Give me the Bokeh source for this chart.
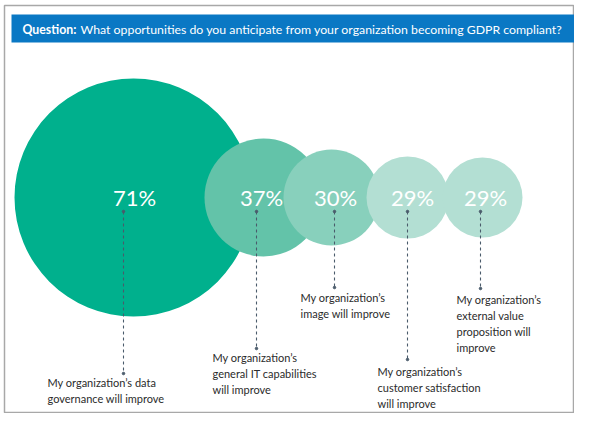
from bokeh.plotting import figure
from bokeh.models import Range1d
from bokeh.core.properties import value
from bokeh.embed import file_html
from bokeh.resources import INLINE

# ---- data ----
pct_values = [71, 37, 30, 29, 29]
pct_labels = ["71%", "37%", "30%", "29%", "29%"]
answers = [
    "My organization\u2019s data\ngovernance will improve",
    "My organization\u2019s\ngeneral IT capabilities\nwill improve",
    "My organization\u2019s\nimage will improve",
    "My organization\u2019s\ncustomer satisfaction\nwill improve",
    "My organization\u2019s\nexternal value\nproposition will\nimprove",
]
title_bold = "Question:"
title_rest = "What opportunities do you anticipate from your organization becoming GDPR compliant?"

# ---- layout (pixel-like data coordinates) ----
circle_x = [133, 263, 331, 407, 482]
circle_r = [119, 59, 48, 41, 40]
circle_y = 197
circle_colors = ["#00b08d", "#63c3a9", "#88d0bc", "#b3dfd3", "#b3dfd3"]
pct_x = [134, 261, 335, 412, 485]
line_x = [123, 256, 334, 407, 480]
line_top = 211
line_end = [373, 348, 287, 359, 288]
label_x = [47, 212, 300, 377, 456]
label_top = [375, 350, 290, 364, 292]

p = figure(width=574, height=413, x_range=Range1d(0, 574), y_range=Range1d(413, 0),
           output_backend="svg", toolbar_location=None, min_border=0,
           x_axis_location=None, y_axis_location=None)
p.grid.visible = False
p.outline_line_color = None
p.background_fill_color = "white"

# frame
p.quad(left=4, right=573, top=5, bottom=412, fill_color=None,
       line_color="#a8a8a8", line_width=1.5)

# title bar
p.quad(left=11, right=574, top=14, bottom=42, fill_color="#0a78c4", line_color=None)
p.text(x=[22], y=[28.5], text=[title_bold], text_font=value("Lato"), text_font_style="bold",
       text_font_size="12.3px", text_color="white", text_baseline="middle", text_align="left")
p.text(x=[80], y=[28.5], text=[title_rest], text_font=value("Lato"),
       text_font_size="12.3px", text_color="white", text_baseline="middle", text_align="left")

# bubbles (drawn in order so later ones overlap earlier ones)
for i in range(len(pct_values)):
    p.circle(x=[circle_x[i]], y=[circle_y], radius=circle_r[i],
             fill_color=circle_colors[i], line_color=None)

p.text(x=pct_x, y=[circle_y] * 5, text=pct_labels, text_font=value("Lato"),
       text_font_size="22px", text_color="white", text_align="center",
       text_baseline="middle")

# dashed leader lines
p.segment(x0=line_x, y0=[line_top] * 5, x1=line_x, y1=line_end,
          line_color="#4a5b6b", line_width=1.1, line_dash="3 3")
p.scatter(x=line_x, y=[line_top] * 5, size=2.5, color="#4a5b6b")
p.scatter(x=line_x, y=line_end, size=2.5, color="#4a5b6b")

p.text(x=label_x, y=label_top, text=answers, text_font=value("Lato"),
       text_font_size="11px", text_color="#2b2b2b", text_align="left",
       text_baseline="top", text_line_height=1.25)

open("out.html", "w").write(file_html(p, INLINE))
